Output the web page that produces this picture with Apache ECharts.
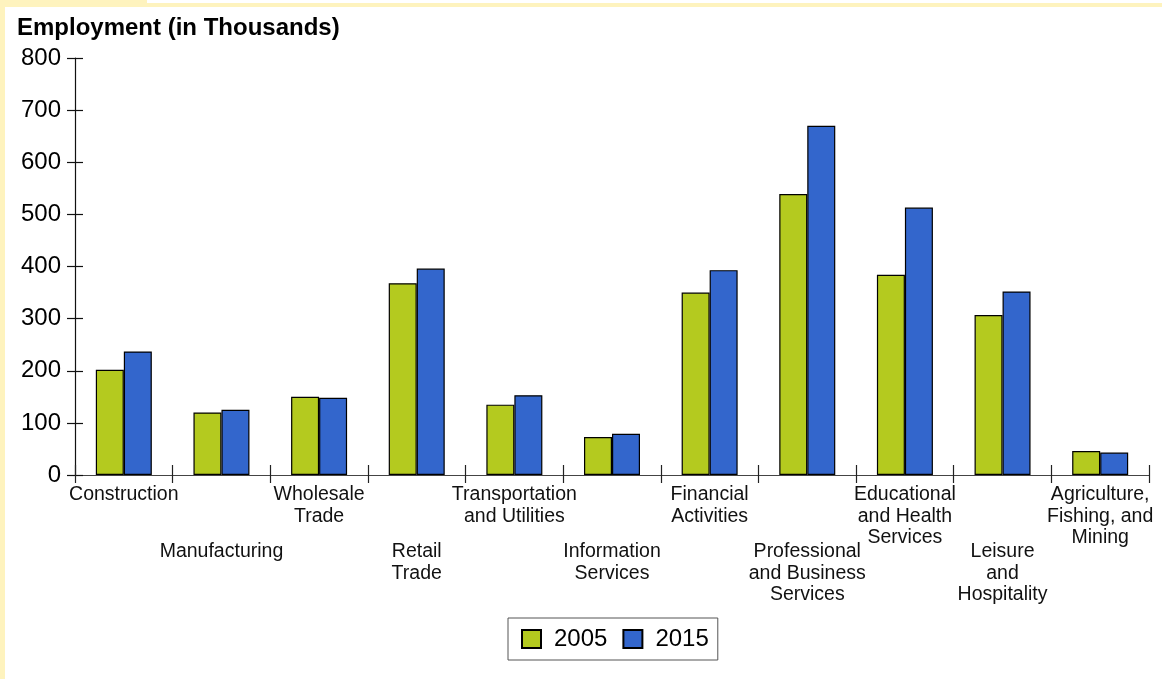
<!DOCTYPE html>
<html>
<head>
<meta charset="utf-8">
<script src="https://cdn.jsdelivr.net/npm/echarts@6/dist/echarts.min.js"></script>
<style>
html,body{margin:0;padding:0;background:#fff;}
#c{width:1162px;height:679px;}
</style>
</head>
<body>
<div id="c"></div>
<script>
const categories = [
  "Construction", "Manufacturing", "Wholesale\nTrade", "Retail\nTrade",
  "Transportation\nand Utilities", "Information\nServices", "Financial\nActivities",
  "Professional\nand Business\nServices", "Educational\nand Health\nServices",
  "Leisure\nand\nHospitality", "Agriculture,\nFishing, and\nMining"
];
const values2005 = [202, 120, 150, 368, 135, 73, 350, 539, 384, 307, 46];
const values2015 = [237, 125, 148, 396, 153, 79, 393, 670, 513, 352, 43];
const yTicks = { min: 0, max: 800, interval: 100 };
const titleText = "Employment (in Thousands)";
const seriesNames = ["2005", "2015"];

const FONT = "'Liberation Sans', Arial, sans-serif";
const YEL = "#FEF3BE";
const chart = echarts.init(document.getElementById('c'), null, { renderer: 'canvas' });

const xLabelBase = { fontFamily: FONT, fontSize: 19.5, color: '#111', lineHeight: 21.5, interval: 0 };

chart.setOption({
  animation: false,
  backgroundColor: '#fff',
  textStyle: { fontFamily: FONT },
  graphic: [
    { type: 'rect', left: 0, top: 0, shape: { width: 147, height: 7 }, style: { fill: YEL }, silent: true, z: -10 },
    { type: 'rect', left: 147, top: 3, shape: { width: 1015, height: 4 }, style: { fill: YEL }, silent: true, z: -10 },
    { type: 'rect', left: 0, top: 0, shape: { width: 5, height: 679 }, style: { fill: YEL }, silent: true, z: -10 },
    { type: 'text', left: 17, top: 16, style: { text: titleText, font: "bold 24px " + FONT, fill: '#000' } }
  ],
  grid: { left: 75, right: 13, top: 58, bottom: 204, containLabel: false },
  legend: {
    data: seriesNames,
    left: 508, top: 618,
    borderColor: '#555', borderWidth: 1,
    padding: [9, 9, 9, 13],
    itemWidth: 19, itemHeight: 18, itemGap: 15,
    icon: 'rect',
    textStyle: { fontFamily: FONT, fontSize: 24, color: '#000', padding: [0, 0, 0, 8] }
  },
  xAxis: [
    {
      type: 'category', data: categories, position: 'bottom',
      axisLine: { lineStyle: { color: '#444', width: 1.2 } },
      axisTick: { show: true, length: 8, inside: false, lineStyle: { color: '#222', width: 1.2 }, interval: 0 },
      axisLabel: Object.assign({}, xLabelBase, {
        margin: 9,
        formatter: (v, i) => (i % 2 === 0 ? v : '')
      })
    },
    {
      type: 'category', data: categories, position: 'bottom', offset: 0,
      axisLine: { show: false },
      axisTick: { show: true, length: 10, inside: true, lineStyle: { color: '#222', width: 1.2 }, interval: 0 },
      axisLabel: Object.assign({}, xLabelBase, {
        margin: 66,
        formatter: (v, i) => (i % 2 === 1 ? v : '')
      })
    }
  ],
  yAxis: [
    {
      type: 'value', min: yTicks.min, max: yTicks.max, interval: yTicks.interval, position: 'left',
      axisLine: { show: true, lineStyle: { color: '#111', width: 1.2 } },
      axisTick: { show: true, length: 8, inside: false, lineStyle: { color: '#111', width: 1.2 } },
      splitLine: { show: false },
      axisLabel: { fontFamily: FONT, fontSize: 24, color: '#000', margin: 14 }
    },
    {
      type: 'value', min: yTicks.min, max: yTicks.max, interval: yTicks.interval, position: 'left', offset: 0,
      axisLine: { show: false },
      axisTick: { show: true, length: 8, inside: true, lineStyle: { color: '#111', width: 1.2 } },
      splitLine: { show: false },
      axisLabel: { show: false }
    }
  ],
  series: [
    {
      name: seriesNames[0], type: 'bar', data: values2005, barWidth: 28, barGap: '0%',
      itemStyle: { color: '#B4CA1F', borderColor: '#000', borderWidth: 1.2 }
    },
    {
      name: seriesNames[1], type: 'bar', data: values2015, barWidth: 28, barGap: '0%',
      itemStyle: { color: '#3366CC', borderColor: '#000', borderWidth: 1.2 }
    }
  ]
});
</script>
</body>
</html>
